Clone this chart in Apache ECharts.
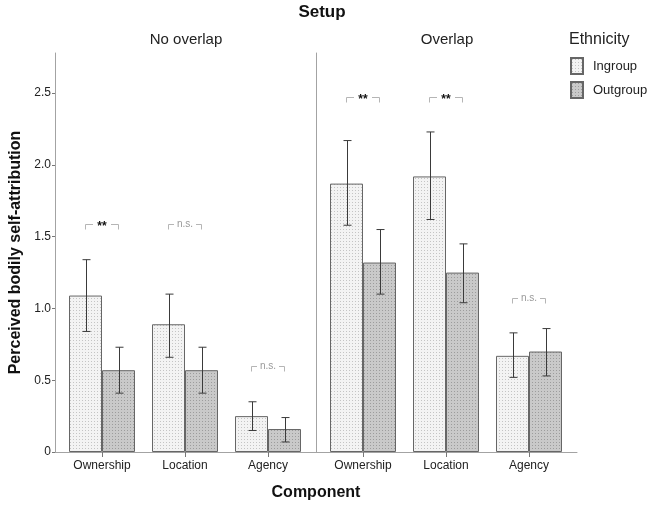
<!DOCTYPE html>
<html>
<head>
<meta charset="utf-8">
<script src="https://cdn.jsdelivr.net/npm/echarts@6/dist/echarts.min.js"></script>
<style>
  html, body { margin: 0; padding: 0; background: #fff; }
  #chart { width: 649px; height: 505px; }
</style>
</head>
<body>
<div id="chart"></div>
<script>
// 数据
const categories = ['Ownership', 'Location', 'Agency'];
const yTicks = [0, 0.5, 1.0, 1.5, 2.0, 2.5];

const noOverlapIn = [1.09, 0.89, 0.25];
const noOverlapOut = [0.57, 0.57, 0.16];
const noOverlapInErr = [[0.84, 1.34], [0.66, 1.10], [0.15, 0.35]];
const noOverlapOutErr = [[0.41, 0.73], [0.41, 0.73], [0.07, 0.24]];
const noOverlapSig = ['**', 'n.s.', 'n.s.'];
const noOverlapSigY = [1.59, 1.59, 0.60];

const overlapIn = [1.87, 1.92, 0.67];
const overlapOut = [1.32, 1.25, 0.70];
const overlapInErr = [[1.58, 2.17], [1.62, 2.23], [0.52, 0.83]];
const overlapOutErr = [[1.10, 1.55], [1.04, 1.45], [0.53, 0.86]];
const overlapSig = ['**', '**', 'n.s.'];
const overlapSigY = [2.47, 2.47, 1.07];

const FONT = 'Liberation Sans, Arial, sans-serif';
const BAR_W = 33;
const Y_MAX = 2.78;
const AXIS_GRAY = '#a3a3a3';

// 点状填充
function dots(base, dot) {
    const c = document.createElement('canvas');
    c.width = 3; c.height = 3;
    const g = c.getContext('2d');
    g.fillStyle = base;
    g.fillRect(0, 0, 3, 3);
    g.fillStyle = dot;
    g.fillRect(1, 1, 1, 1);
    return { image: c, repeat: 'repeat' };
}
const inFill = dots('#f3f3f3', '#c4c4c4');
const outFill = dots('#c9c9c9', '#9c9c9c');

function barSeries(name, data, fill, idx) {
    return {
        name: name,
        type: 'bar',
        xAxisIndex: idx, yAxisIndex: idx,
        barWidth: BAR_W,
        barGap: '0%',
        data: data,
        itemStyle: { color: fill, borderColor: '#666', borderWidth: 1 },
        emphasis: { disabled: true },
        z: 2,
    };
}

// 误差线
function errSeries(errs, side, idx) {
    return {
        type: 'custom',
        xAxisIndex: idx, yAxisIndex: idx,
        data: errs.map((e, i) => [i, e[0], e[1]]),
        z: 5,
        silent: true,
        renderItem: function (params, api) {
            const lo = api.coord([api.value(0), api.value(1)]);
            const hi = api.coord([api.value(0), api.value(2)]);
            const x = Math.round(lo[0] + side * BAR_W / 2) + 0.5;
            const style = { stroke: '#3a3a3a', lineWidth: 1 };
            return {
                type: 'group',
                children: [
                    { type: 'line', shape: { x1: x, y1: lo[1], x2: x, y2: hi[1] }, style: style },
                    { type: 'line', shape: { x1: x - 4, y1: lo[1], x2: x + 4, y2: lo[1] }, style: style },
                    { type: 'line', shape: { x1: x - 4, y1: hi[1], x2: x + 4, y2: hi[1] }, style: style },
                ],
            };
        },
    };
}

// 显著性标记
function sigSeries(labels, ys, idx) {
    return {
        type: 'custom',
        xAxisIndex: idx, yAxisIndex: idx,
        data: ys.map((y, i) => [i, y]),
        z: 5,
        silent: true,
        renderItem: function (params, api) {
            const p = api.coord([api.value(0), api.value(1)]);
            const label = labels[params.dataIndex];
            const star = label === '**';
            const y = Math.round(p[1]) + 0.5;
            const x1 = p[0] - BAR_W / 2, x2 = p[0] + BAR_W / 2;
            const half = star ? 9 : 11;
            const style = { stroke: '#b5b5b5', lineWidth: 1 };
            return {
                type: 'group',
                children: [
                    { type: 'line', shape: { x1: x1, y1: y + 5, x2: x1, y2: y }, style: style },
                    { type: 'line', shape: { x1: x1, y1: y, x2: p[0] - half, y2: y }, style: style },
                    { type: 'line', shape: { x1: p[0] + half, y1: y, x2: x2, y2: y }, style: style },
                    { type: 'line', shape: { x1: x2, y1: y, x2: x2, y2: y + 5 }, style: style },
                    {
                        type: 'text',
                        x: p[0], y: star ? y + 2 : y,
                        style: {
                            text: label,
                            fill: star ? '#111' : '#999',
                            font: (star ? 'bold 12px ' : '10px ') + FONT,
                            align: 'center',
                            verticalAlign: 'middle',
                        },
                    },
                ],
            };
        },
    };
}

const catAxis = (idx) => ({
    type: 'category',
    gridIndex: idx,
    data: categories,
    boundaryGap: true,
    axisLine: { show: false },
    axisTick: { show: true, alignWithLabel: true, length: 5, lineStyle: { color: '#777' } },
    axisLabel: { fontFamily: FONT, fontSize: 12, color: '#222', margin: 8 },
});

const hiddenY = (idx) => ({
    type: 'value', gridIndex: idx, min: 0, max: Y_MAX,
    axisLine: { show: false }, axisTick: { show: false },
    axisLabel: { show: false }, splitLine: { show: false },
});

const option = {
    animation: false,
    backgroundColor: '#fff',
    grid: [
        { left: 55, width: 522, top: 53, bottom: 53, outerBoundsMode: 'none', containLabel: false },      // 外框
        { left: 60.5, width: 249, top: 53, bottom: 53, outerBoundsMode: 'none', containLabel: false },    // No overlap
        { left: 321.5, width: 249, top: 53, bottom: 53, outerBoundsMode: 'none', containLabel: false },   // Overlap
    ],
    xAxis: [
        {
            type: 'value', gridIndex: 0, min: 0, max: 1,
            name: 'Component', nameLocation: 'middle', nameGap: 33,
            nameTextStyle: { fontFamily: FONT, fontSize: 16, fontWeight: 'bold', color: '#111' },
            axisLine: { show: true, lineStyle: { color: AXIS_GRAY } },
            axisTick: { show: false }, axisLabel: { show: false }, splitLine: { show: false },
        },
        catAxis(1),
        catAxis(2),
    ],
    yAxis: [
        {
            type: 'value', gridIndex: 0, min: 0, max: Y_MAX,
            name: 'Perceived bodily self-attribution', nameLocation: 'middle', nameGap: 30,
            nameTextStyle: { fontFamily: FONT, fontSize: 16, fontWeight: 'bold', color: '#111' },
            axisLine: { show: true, lineStyle: { color: AXIS_GRAY } },
            axisTick: { show: true, length: 3, customValues: yTicks, lineStyle: { color: '#777' } },
            axisLabel: {
                customValues: yTicks, fontFamily: FONT, fontSize: 12, color: '#222', margin: 4,
                formatter: (v) => (v === 0 ? '0' : v.toFixed(1)),
            },
            splitLine: { show: false },
        },
        hiddenY(1),
        {
            type: 'value', gridIndex: 2, min: 0, max: Y_MAX, offset: 5.5,
            axisLine: { show: true, lineStyle: { color: AXIS_GRAY } },
            axisTick: { show: false }, axisLabel: { show: false }, splitLine: { show: false },
        },
    ],
    legend: {
        data: ['Ingroup', 'Outgroup'],
        orient: 'vertical',
        left: 565, top: 52,
        icon: 'rect',
        itemWidth: 12, itemHeight: 16, itemGap: 6,
        selectedMode: false,
        textStyle: { fontFamily: FONT, fontSize: 13, color: '#222', padding: [0, 0, 0, 5] },
    },
    graphic: [
        { type: 'text', x: 322, y: 12, style: { text: 'Setup', font: 'bold 17px ' + FONT, fill: '#111', align: 'center', verticalAlign: 'middle' } },
        { type: 'text', x: 186, y: 40, style: { text: 'No overlap', font: '15px ' + FONT, fill: '#222', align: 'center', verticalAlign: 'middle' } },
        { type: 'text', x: 447, y: 40, style: { text: 'Overlap', font: '15px ' + FONT, fill: '#222', align: 'center', verticalAlign: 'middle' } },
        { type: 'text', x: 569, y: 40, style: { text: 'Ethnicity', font: '16px ' + FONT, fill: '#222', align: 'left', verticalAlign: 'middle' } },
    ],
    series: [
        barSeries('Ingroup', noOverlapIn, inFill, 1),
        barSeries('Outgroup', noOverlapOut, outFill, 1),
        barSeries('Ingroup', overlapIn, inFill, 2),
        barSeries('Outgroup', overlapOut, outFill, 2),
        errSeries(noOverlapInErr, -1, 1),
        errSeries(noOverlapOutErr, 1, 1),
        errSeries(overlapInErr, -1, 2),
        errSeries(overlapOutErr, 1, 2),
        sigSeries(noOverlapSig, noOverlapSigY, 1),
        sigSeries(overlapSig, overlapSigY, 2),
    ],
};

const chart = echarts.init(document.getElementById('chart'));
chart.setOption(option);
</script>
</body>
</html>
